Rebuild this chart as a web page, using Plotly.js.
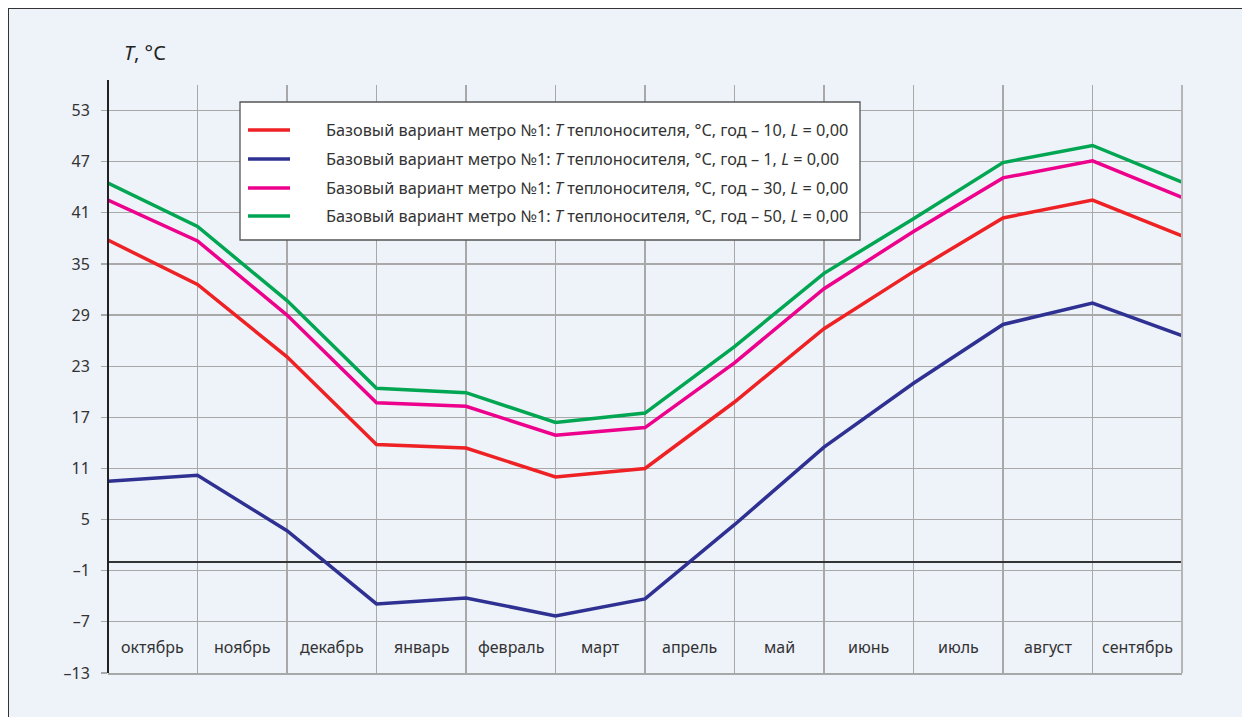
<!DOCTYPE html>
<html>
<head>
<meta charset="utf-8">
<script src="https://cdn.plot.ly/plotly-3.0.1.min.js"></script>
<style>
html,body{margin:0;padding:0;background:#ffffff;}
#frame{position:absolute;left:8px;top:8px;width:1234px;height:709px;background:#eef2f9;border-left:1.5px solid #333;border-top:1.5px solid #333;box-sizing:border-box;}
#chart{position:absolute;left:0;top:0;width:1242px;height:717px;}
</style>
</head>
<body>
<div id="frame"></div>
<div id="chart"></div>
<script>
const months = ["октябрь","ноябрь","декабрь","январь","февраль","март","апрель","май","июнь","июль","август","сентябрь"];
const xPoints = [0,1,2,3,4,5,6,7,8,9,10,11,12];
const yTickVals = [-13,-7,-1,5,11,17,23,29,35,41,47,53];
const yTickText = ["–13","–7","–1","5","11","17","23","29","35","41","47","53"];

const seriesNames = [
  "Базовый вариант метро №1: <i>T</i> теплоносителя, °C, год – 10, <i>L</i> = 0,00",
  "Базовый вариант метро №1: <i>T</i> теплоносителя, °C, год – 1, <i>L</i> = 0,00",
  "Базовый вариант метро №1: <i>T</i> теплоносителя, °C, год – 30, <i>L</i> = 0,00",
  "Базовый вариант метро №1: <i>T</i> теплоносителя, °C, год – 50, <i>L</i> = 0,00"
];
const year10 = [37.8, 32.6, 24.1, 13.8, 13.4, 10.0, 11.0, 18.8, 27.4, 34.1, 40.4, 42.5, 38.3];
const year1  = [9.5, 10.2, 3.7, -4.9, -4.2, -6.3, -4.3, 4.4, 13.5, 21.0, 27.9, 30.4, 26.6];
const year30 = [42.5, 37.7, 29.0, 18.7, 18.3, 14.9, 15.8, 23.4, 32.1, 38.8, 45.1, 47.1, 42.8];
const year50 = [44.5, 39.4, 30.7, 20.4, 19.9, 16.4, 17.5, 25.3, 33.9, 40.3, 46.9, 48.9, 44.6];
const colors = ["#ee2124","#2e3192","#ec008c","#00a651"];

const allY = [year10, year1, year30, year50];
const traces = allY.map((ys, i) => ({
  x: xPoints, y: ys, type: "scatter", mode: "lines",
  name: seriesNames[i], showlegend: false,
  line: {color: colors[i], width: 3.5}
}));

const FONT = "Noto Sans, Open Sans, sans-serif";
const px = v => (v - 108) / 1074;
const py = v => (673 - v) / 588;

const annotations = months.map((m, i) => ({
  x: i + 0.5, y: -10, xref: "x", yref: "y", text: m, showarrow: false,
  font: {family: FONT, size: 16, color: "#333"}
}));
annotations.push({
  xref: "paper", yref: "paper", x: px(145), y: py(52),
  text: "<i>T</i>, °C", showarrow: false, xanchor: "center", yanchor: "middle",
  font: {family: FONT, size: 20, color: "#222"}
});

const shapes = [
  {type: "line", xref: "paper", yref: "paper", x0: 0, x1: 0, y0: 0, y1: py(80),
   line: {color: "#222", width: 2}},
  {type: "line", xref: "paper", yref: "paper", x0: 1, x1: 1, y0: 0, y1: 1,
   line: {color: "#b5b5b5", width: 2}},
  {type: "rect", xref: "paper", yref: "paper", x0: px(240), x1: px(860), y0: py(240), y1: py(102),
   fillcolor: "#ffffff", line: {color: "#555", width: 1.3}, layer: "above"}
];

// legend entries (manual, laid out inside the box)
const legendRows = [130, 159, 188, 216];
seriesNames.forEach((name, i) => {
  shapes.push({type: "line", xref: "paper", yref: "paper",
    x0: px(248), x1: px(290), y0: py(legendRows[i]), y1: py(legendRows[i]),
    line: {color: colors[i], width: 3.5}, layer: "above"});
  annotations.push({xref: "paper", yref: "paper", x: px(324), y: py(legendRows[i]),
    xanchor: "left", yanchor: "middle", text: name, showarrow: false,
    font: {family: FONT, size: 16.3, color: "#333"}});
});

const layout = {
  width: 1242, height: 717,
  margin: {l: 108, r: 60, t: 85, b: 44},
  paper_bgcolor: "rgba(0,0,0,0)",
  plot_bgcolor: "rgba(0,0,0,0)",
  font: {family: FONT, size: 16, color: "#333"},
  showlegend: false,
  xaxis: {
    range: [0, 12], tickvals: xPoints, showticklabels: false, ticks: "",
    showgrid: true, gridcolor: "#a8a8a8", gridwidth: 1.2,
    zeroline: false, showline: true, linecolor: "#a8a8a8", linewidth: 1.5,
    mirror: false, fixedrange: true
  },
  yaxis: {
    range: [-13, 56], tickvals: yTickVals, ticktext: yTickText,
    ticks: "outside", ticklen: 6, tickcolor: "#a8a8a8", tickwidth: 1.2,
    ticklabelstandoff: 8,
    showgrid: true, gridcolor: "#a8a8a8", gridwidth: 1.2,
    zeroline: true, zerolinecolor: "#333", zerolinewidth: 2,
    showline: false,
    tickfont: {family: FONT, size: 16, color: "#333"},
    fixedrange: true
  },
  shapes: shapes,
  annotations: annotations
};

Plotly.newPlot("chart", traces, layout, {displayModeBar: false, staticPlot: true});
</script>
</body>
</html>
